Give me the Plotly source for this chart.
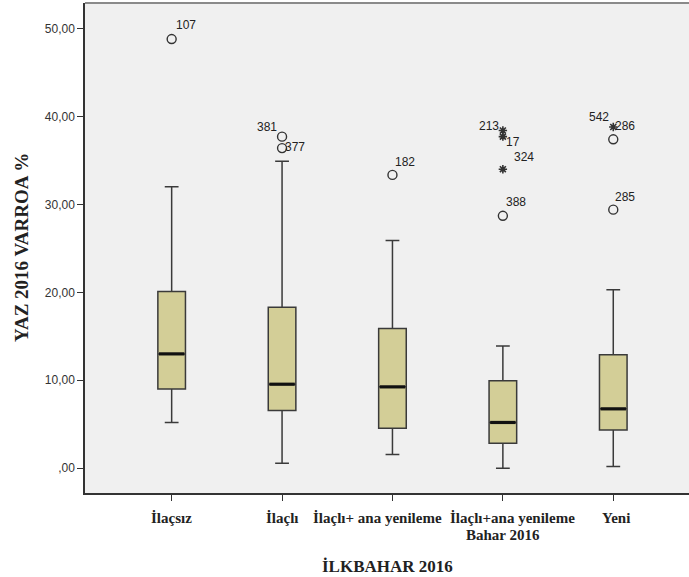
import plotly.graph_objects as go

# ---- data ----
categories = ["İlaçsız", "İlaçlı", "İlaçlı+ ana yenileme", "İlaçlı+ana yenileme<br>Bahar 2016", "Yeni"]
whisker_low = [5.2, 0.55, 1.55, 0.0, 0.2]
q1_vals = [9.0, 6.55, 4.55, 2.85, 4.35]
median_vals = [13.0, 9.55, 9.25, 5.2, 6.75]
q3_vals = [20.1, 18.3, 15.9, 9.95, 12.9]
whisker_high = [32.0, 34.9, 25.9, 13.9, 20.3]

outlier_group = [0, 1, 1, 2, 3, 3, 3, 3, 4, 4, 4]
outlier_value = [48.8, 37.7, 36.4, 33.35, 38.4, 37.7, 34.0, 28.7, 38.8, 37.4, 29.4]
outlier_kind = ["o", "o", "o", "o", "*", "*", "*", "o", "*", "o", "o"]
outlier_label = ["107", "381", "377", "182", "213", "17", "324", "388", "542|286", "", "285"]

y_tick_vals = [0, 10, 20, 30, 40, 50]
y_tick_text = [",00", "10,00", "20,00", "30,00", "40,00", "50,00"]

x_title = "İLKBAHAR 2016"
y_title = "YAZ 2016 VARROA %"

# label offsets (pixels) — styling only
label_offsets = {
    "107": [(14, 14)],
    "381": [(-15, 10)],
    "377": [(13, 1)],
    "182": [(13, 13)],
    "213": [(-14, 5)],
    "17": [(10, -5)],
    "324": [(21, 12)],
    "388": [(13, 14)],
    "542|286": [(-14, 10), (12, 1)],
    "285": [(12, 13)],
}
# horizontal shift of each category-label line (pixels) — styling only
cat_line_shift = [[0], [0], [-15], [10, 0], [3]]

BOX_FILL = "#D3CE97"
BOX_LINE = "#3a3a3a"
BOX_W = 0.25
SERIF = "Liberation Serif, Times New Roman"
SANS = "Liberation Sans, Arial"

fig = go.Figure()

for i, cat in enumerate(categories):
    fig.add_trace(go.Box(
        x=[i], q1=[q1_vals[i]], median=[median_vals[i]], q3=[q3_vals[i]],
        lowerfence=[whisker_low[i]], upperfence=[whisker_high[i]],
        width=BOX_W, whiskerwidth=0.5, fillcolor=BOX_FILL,
        line=dict(color=BOX_LINE, width=1.5), boxpoints=False,
        showlegend=False, hoverinfo="skip",
    ))

# thick median lines
mx, my = [], []
for i, m in enumerate(median_vals):
    mx += [i - BOX_W / 2 + 0.01, i + BOX_W / 2 - 0.01, None]
    my += [m, m, None]
fig.add_trace(go.Scatter(x=mx, y=my, mode="lines", line=dict(color="#111", width=3.2),
                         showlegend=False, hoverinfo="skip"))

# outliers
cx = [g for g, k in zip(outlier_group, outlier_kind) if k == "o"]
cy = [v for v, k in zip(outlier_value, outlier_kind) if k == "o"]
sx = [g for g, k in zip(outlier_group, outlier_kind) if k == "*"]
sy = [v for v, k in zip(outlier_value, outlier_kind) if k == "*"]
fig.add_trace(go.Scatter(x=cx, y=cy, mode="markers",
                         marker=dict(symbol="circle-open", size=9, color="#333", line=dict(width=1.4)),
                         showlegend=False, hoverinfo="skip"))
fig.add_trace(go.Scatter(x=sx, y=sy, mode="markers",
                         marker=dict(symbol="asterisk-open", size=7, color="#333", line=dict(width=1.6, color="#333")),
                         showlegend=False, hoverinfo="skip"))

for g, v, lab in zip(outlier_group, outlier_value, outlier_label):
    if not lab:
        continue
    parts = lab.split("|")
    for txt, (dx, dy) in zip(parts, label_offsets[lab]):
        fig.add_annotation(x=g, y=v, text=txt, showarrow=False, xshift=dx, yshift=dy,
                           font=dict(family=SANS, size=12, color="#222"))

# category labels (as annotations so each line can be nudged like the original)
for i, cat in enumerate(categories):
    for j, line in enumerate(cat.split("<br>")):
        fig.add_annotation(x=i, xref="x", yref="paper", y=0, yshift=-25 - 17 * j,
                           text=f"<b>{line}</b>", showarrow=False, xshift=cat_line_shift[i][j],
                           yanchor="middle",
                           font=dict(family=SERIF, size=15, color="#222"))

# axis titles
fig.add_annotation(xref="paper", yref="paper", x=0.5, y=0, yshift=-73,
                   text=f"<b>{x_title}</b>", showarrow=False, yanchor="middle",
                   font=dict(family=SERIF, size=17, color="#222"))
fig.add_annotation(xref="paper", yref="paper", x=0, y=0.5, xshift=-64, textangle=-90,
                   text=f"<b>{y_title}</b>", showarrow=False, xanchor="center",
                   font=dict(family=SERIF, size=19, color="#222"))

# top frame line
fig.add_shape(type="line", xref="paper", yref="paper", x0=0, x1=1, y0=1, y1=1,
              line=dict(color="#8a8a8a", width=2))

fig.update_layout(
    width=689, height=577,
    margin=dict(l=85, r=0, t=3, b=84, autoexpand=False),
    paper_bgcolor="white", plot_bgcolor="#F0F0F0",
    xaxis=dict(
        range=[-0.785, 4.686], tickmode="array", tickvals=list(range(len(categories))),
        showticklabels=False, automargin=False,
        showgrid=False, zeroline=False, showline=True, linecolor="#333", linewidth=1.5,
        ticks="outside", ticklen=6, tickcolor="#333", tickwidth=1.2,
    ),
    yaxis=dict(
        range=[-2.82, 52.9], tickmode="array", tickvals=y_tick_vals, ticktext=y_tick_text,
        automargin=False,
        showgrid=False, zeroline=False, showline=True, linecolor="#333", linewidth=1.5,
        ticks="outside", ticklen=6, tickcolor="#333", tickwidth=1.2,
        tickfont=dict(family=SANS, size=12, color="#333"),
    ),
)

fig.write_html("out.html", config={"displayModeBar": False},
               post_script="document.body.style.margin='0';")
